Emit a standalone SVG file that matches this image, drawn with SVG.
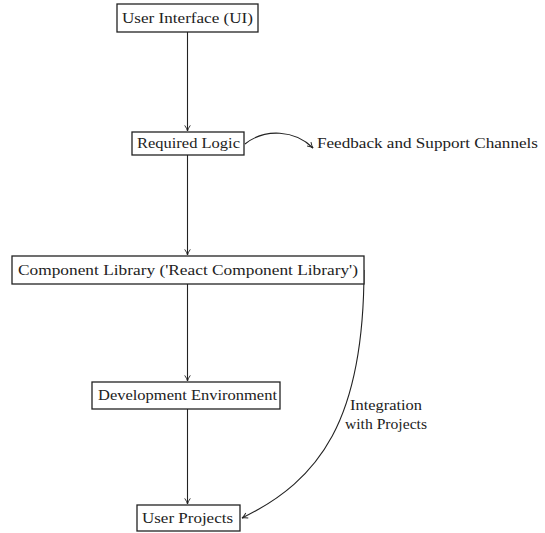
<svg xmlns="http://www.w3.org/2000/svg" width="545" height="533" viewBox="0 0 545 533">
<style>
.box{fill:#fff;stroke:#222;stroke-width:1.3}
.t{font-family:"Liberation Serif","DejaVu Serif",serif;font-size:15.5px;fill:#222;text-anchor:middle}
.c{fill:none;stroke:#222;stroke-width:1.1}
</style>
<defs>
<marker id="ah" viewBox="0 0 10 10" refX="9" refY="5" markerWidth="7" markerHeight="7" orient="auto" markerUnits="userSpaceOnUse">
<path d="M1,1 Q5,4 9,5 Q5,6 1,9" fill="none" stroke="#222" stroke-width="1.3"/>
</marker>
</defs>
<rect width="545" height="533" fill="#fff"/>
<g id="connectors">
<line class="c" x1="187.5" y1="32" x2="187.5" y2="131" marker-end="url(#ah)"/>
<line class="c" x1="187.5" y1="155" x2="187.5" y2="255" marker-end="url(#ah)"/>
<line class="c" x1="187.5" y1="284" x2="187.5" y2="381" marker-end="url(#ah)"/>
<line class="c" x1="187.5" y1="409" x2="187.5" y2="504" marker-end="url(#ah)"/>
<path class="c" d="M245,144 C265,128 295,130 313,148" marker-end="url(#ah)"/>
<path class="c" d="M364,270 C364,420 320,480 242,518" marker-end="url(#ah)"/>
</g>
<g id="ui"><rect class="box" x="117" y="4" width="141" height="28"/><text class="t" x="187.5" y="23" textLength="131" lengthAdjust="spacingAndGlyphs">User Interface (UI)</text></g>
<g id="logic"><rect class="box" x="132" y="132" width="112" height="23"/><text class="t" x="188.5" y="148" textLength="103" lengthAdjust="spacingAndGlyphs">Required Logic</text></g>
<g id="feedback"><text class="t" x="427.5" y="148" textLength="221" lengthAdjust="spacingAndGlyphs">Feedback and Support Channels</text></g>
<g id="library"><rect class="box" x="12" y="256" width="352" height="28"/><text class="t" x="188" y="275" textLength="340" lengthAdjust="spacingAndGlyphs">Component Library ('React Component Library')</text></g>
<g id="devenv"><rect class="box" x="92" y="382" width="188" height="27"/><text class="t" x="187.5" y="400" textLength="179" lengthAdjust="spacingAndGlyphs">Development Environment</text></g>
<g id="projects"><rect class="box" x="137" y="505" width="103" height="26"/><text class="t" x="187.5" y="523" textLength="91" lengthAdjust="spacingAndGlyphs">User Projects</text></g>
<g id="integration-label"><text class="t" x="386" y="410" textLength="72" lengthAdjust="spacingAndGlyphs">Integration</text><text class="t" x="386" y="429" textLength="82" lengthAdjust="spacingAndGlyphs">with Projects</text></g>
</svg>
